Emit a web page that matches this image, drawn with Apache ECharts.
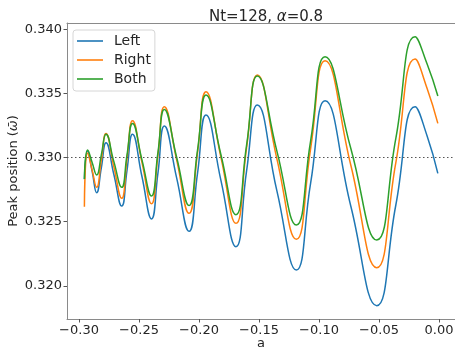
<!DOCTYPE html>
<html>
<head>
<meta charset="utf-8">
<script src="https://cdn.jsdelivr.net/npm/echarts@6/dist/echarts.min.js"></script>
<style>
  html, body { margin: 0; padding: 0; background: #fff; }
  #chart { width: 455px; height: 349px; }
</style>
</head>
<body>
<div id="chart"></div>
<script>
// a values (shared by all three curves)
var aValues = [-0.2955, -0.2928, -0.2890, -0.2853, -0.2814, -0.2775, -0.2710, -0.2644, -0.2600, -0.2554,
  -0.2475, -0.2396, -0.2342, -0.2289, -0.2186, -0.2083, -0.2012, -0.1942, -0.1817, -0.1692,
  -0.1603, -0.1514, -0.1351, -0.1189, -0.1070, -0.0950, -0.0735, -0.0519, -0.0360, -0.0200,
  -0.0100, -0.0010];

var leftPeak = [0.3283, 0.3305, 0.3289, 0.32726, 0.3292, 0.33115, 0.3287, 0.32622, 0.3290, 0.33181,
  0.3285, 0.32522, 0.3288, 0.33245, 0.3284, 0.32425, 0.3288, 0.33331, 0.3282, 0.32305,
  0.3290, 0.33409, 0.3274, 0.32124, 0.3280, 0.33442, 0.3262, 0.31846, 0.3263, 0.33396,
  0.3317, 0.32877];

var rightPeak = [0.32617, 0.33035, 0.3290, 0.32768, 0.3298, 0.33188, 0.3293, 0.32682, 0.3299, 0.33287,
  0.3296, 0.32640, 0.3302, 0.33396, 0.3298, 0.32565, 0.3304, 0.33512, 0.3300, 0.32487,
  0.3308, 0.33643, 0.3299, 0.32363, 0.3307, 0.33754, 0.3294, 0.32142, 0.3296, 0.33767,
  0.3354, 0.33266];

var bothPeak = [0.32833, 0.33058, 0.3296, 0.32864, 0.3302, 0.33181, 0.3297, 0.32768, 0.3302, 0.33266,
  0.3298, 0.32700, 0.3304, 0.33375, 0.3300, 0.32626, 0.3306, 0.33487, 0.3302, 0.32555,
  0.3310, 0.33635, 0.3305, 0.32474, 0.3313, 0.33785, 0.3307, 0.32357, 0.3315, 0.33941,
  0.3373, 0.33479];

var xTicks = [-0.30, -0.25, -0.20, -0.15, -0.10, -0.05, 0.00];
var yTicks = [0.320, 0.325, 0.330, 0.335, 0.340];
var refLine = 0.330;

function pairs(ys) {
  return aValues.map(function (a, i) { return [a, ys[i]]; });
}

var font = "DejaVu Sans";
var spine = "#8a8a8a";

var chart = echarts.init(document.getElementById("chart"));

chart.setOption({
  animation: false,
  backgroundColor: "#fff",
  title: {
    text: "Nt=128, {i|α}=0.8",
    left: 261,
    textAlign: "center",
    top: 5,
    textStyle: {
      fontFamily: font,
      fontSize: 15,
      fontWeight: "normal",
      color: "#262626",
      rich: {
        i: { fontFamily: font, fontSize: 15, fontStyle: "italic", color: "#262626" }
      }
    }
  },
  legend: {
    orient: "vertical",
    left: 73,
    top: 30,
    data: ["Left", "Right", "Both"],
    icon: "rect",
    itemWidth: 26,
    itemHeight: 1.6,
    itemGap: 5,
    padding: [4, 4, 5, 4],
    backgroundColor: "rgba(255,255,255,0.8)",
    borderColor: "#d6d6d6",
    borderWidth: 1,
    borderRadius: 3,
    textStyle: {
      fontFamily: font,
      fontSize: 14,
      color: "#262626",
      padding: [0, 0, 0, 6]
    }
  },
  grid: {
    left: 67,
    right: 0,
    top: 23,
    bottom: 30,
    outerBoundsMode: "none"
  },
  xAxis: [
    {
      type: "value",
      min: -0.31,
      max: 0.0133,
      name: "a",
      nameLocation: "middle",
      nameGap: 18,
      nameMoveOverlap: false,
      nameTextStyle: { fontFamily: font, fontSize: 13, color: "#262626" },
      splitLine: { show: false },
      axisLine: { show: true, onZero: false, lineStyle: { color: spine, width: 1 } },
      axisTick: {
        show: true,
        length: 3.5,
        customValues: xTicks,
        lineStyle: { color: "#555" }
      },
      axisLabel: {
        customValues: xTicks,
        margin: 5,
        fontFamily: font,
        fontSize: 13,
        color: "#262626",
        formatter: function (v) {
          return (v < 0 ? "\u2212" : "") + Math.abs(v).toFixed(2);
        }
      }
    },
    {
      type: "value",
      position: "top",
      min: -0.31,
      max: 0.0133,
      splitLine: { show: false },
      axisLine: { show: true, onZero: false, lineStyle: { color: spine, width: 1 } },
      axisTick: { show: false },
      axisLabel: { show: false }
    }
  ],
  yAxis: {
    type: "value",
    min: 0.31742,
    max: 0.34048,
    name: "Peak position ({i|ω̄})",
    nameLocation: "middle",
    nameGap: 47,
    nameMoveOverlap: false,
    nameTextStyle: {
      fontFamily: font,
      fontSize: 13,
      color: "#262626",
      rich: {
        i: { fontFamily: font, fontSize: 13, fontStyle: "italic", color: "#262626" }
      }
    },
    splitLine: { show: false },
    axisLine: { show: true, onZero: false, lineStyle: { color: spine, width: 1 } },
    axisTick: {
      show: true,
      length: 3.5,
      customValues: yTicks,
      lineStyle: { color: "#555" }
    },
    axisLabel: {
      customValues: yTicks,
      margin: 5,
      fontFamily: font,
      fontSize: 13,
      color: "#262626",
      formatter: function (v) { return v.toFixed(3); }
    }
  },
  series: [
    {
      name: "Left",
      type: "line",
      data: pairs(leftPeak),
      smooth: 0.5,
      showSymbol: false,
      color: "#1f77b4",
      lineStyle: { width: 1.5 },
      markLine: {
        silent: true,
        symbol: "none",
        label: { show: false },
        lineStyle: { color: "#555", type: [1.5, 2.5], width: 1.2 },
        data: [{ yAxis: refLine }]
      }
    },
    {
      name: "Right",
      type: "line",
      data: pairs(rightPeak),
      smooth: 0.5,
      showSymbol: false,
      color: "#ff7f0e",
      lineStyle: { width: 1.5 }
    },
    {
      name: "Both",
      type: "line",
      data: pairs(bothPeak),
      smooth: 0.5,
      showSymbol: false,
      color: "#2ca02c",
      lineStyle: { width: 1.5 }
    }
  ]
});
</script>
</body>
</html>
